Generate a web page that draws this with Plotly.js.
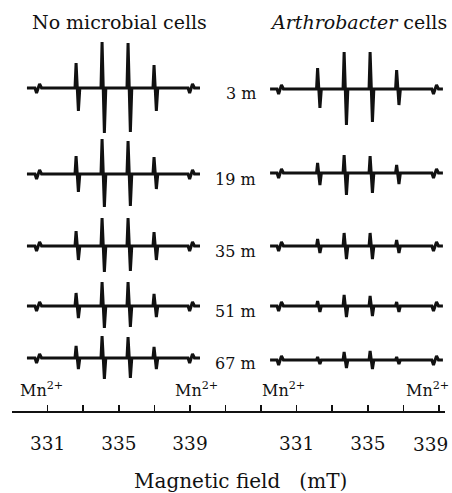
<!DOCTYPE html>
<html>
<head>
<meta charset="utf-8">
<script src="https://cdn.plot.ly/plotly-3.0.1.min.js"></script>
<style>html,body{margin:0;padding:0;background:#fff;}#chart{width:452px;height:493px;}</style>
</head>
<body>
<div id="chart"></div>
<script>
// ---- data (magnetic field in mT, signal in arbitrary units) ----
const rowLabels = ['3 m', '19 m', '35 m', '51 m', '67 m'];
const panelTitles = ['No microbial cells', '<i>Arthrobacter</i> cells'];

// field points of the traced spectra, left panel (no cells)
const leftField = [329.84, 330.29, 330.38, 330.55, 330.66,
  332.54, 332.60, 332.73, 332.81,
  334.00, 334.06, 334.19, 334.27,
  335.46, 335.52, 335.65, 335.73,
  336.92, 336.98, 337.11, 337.19,
  338.89, 338.98, 339.14, 339.25, 339.56];
// field points, right panel (Arthrobacter cells)
const rightField = [329.51, 329.90, 329.99, 330.15, 330.26,
  332.12, 332.18, 332.31, 332.39,
  333.61, 333.67, 333.80, 333.88,
  335.07, 335.13, 335.26, 335.34,
  336.56, 336.62, 336.75, 336.83,
  338.60, 338.69, 338.86, 338.97, 339.22];

// signal values
const left3m  = [0, 0, -5, 4, 0,  0, 25, -23, 0,  0, 46, -45, 0,  0, 45, -44, 0,  0, 23, -23, 0,  0, -5, 4, 0, 0];
const left19m = [0, 0, -5, 4, 0,  0, 18, -18, 0,  0, 35, -33, 0,  0, 33, -32, 0,  0, 17, -15, 0,  0, -5, 4, 0, 0];
const left35m = [0, 0, -5, 4, 0,  0, 15, -14, 0,  0, 28, -26, 0,  0, 28, -25, 0,  0, 14, -14, 0,  0, -5, 4, 0, 0];
const left51m = [0, 0, -5, 4, 0,  0, 13, -12, 0,  0, 24, -22, 0,  0, 24, -21, 0,  0, 12, -11, 0,  0, -5, 4, 0, 0];
const left67m = [0, 0, -5, 4, 0,  0, 12, -11, 0,  0, 22, -21, 0,  0, 21, -20, 0,  0, 11, -11, 0,  0, -5, 4, 0, 0];

const right3m  = [0, 0, -5, 4, 0,  0, 21, -19, 0,  0, 37, -36, 0,  0, 37, -33, 0,  0, 19, -16, 0,  0, -5, 4, 0, 0];
const right19m = [0, 0, -5, 4, 0,  0, 10, -12, 0,  0, 18, -22, 0,  0, 17, -20, 0,  0, 8, -11, 0,  0, -5, 4, 0, 0];
const right35m = [0, 0, -5, 4, 0,  0, 7, -7, 0,  0, 13, -13, 0,  0, 13, -13, 0,  0, 6, -7, 0,  0, -5, 4, 0, 0];
const right51m = [0, 0, -5, 4, 0,  0, 5, -6, 0,  0, 11, -11, 0,  0, 10, -10, 0,  0, 4, -6, 0,  0, -5, 4, 0, 0];
const right67m = [0, 0, -5, 4, 0,  0, 3, -4, 0,  0, 8, -8, 0,  0, 9, -9, 0,  0, 3, -4, 0,  0, -5, 4, 0, 0];

// Mn2+ marker fields
const leftMnField = [330.46, 339.06];
const rightMnField = [330.07, 338.78];

// axis ticks (labelled majors, unlabelled minors)
const leftTickVals = [331, 335, 339];
const leftTickText = ['331', '335', '339'];
const leftMinorVals = [329, 333, 337, 341];
const rightTickVals = [331, 335];
const rightTickText = ['331', '335'];
const rightMinorVals = [329, 333, 337, 339];
const rightEndLabel = {value: 339, text: '339'};
const xTitle = 'Magnetic field  \u00a0(mT)';

// ---- layout helpers ----
const W = 452, H = 493;
const leftRows = [left3m, left19m, left35m, left51m, left67m];
const rightRows = [right3m, right19m, right35m, right51m, right67m];
const leftBase = [88, 174, 246, 306, 358];
const rightBase = [89, 173, 246, 306, 360];
const FONT = 'DejaVu Serif, Liberation Serif, serif';
const py = p => 1 - p / H;
const px = p => p / W;
const half = 50 / H;
const AXIS_Y = 411.5;

const traces = [];
const tickFont = {family: FONT, size: 18.5, color: '#111'};
const axisCommon = {
  anchor: 'free', position: py(AXIS_Y),
  showline: true, linecolor: '#111', linewidth: 2,
  ticks: 'inside', ticklen: 6, tickwidth: 1.5, tickcolor: '#111',
  tickfont: tickFont,
  ticklabelstandoff: 15,
  showgrid: false, zeroline: false, fixedrange: true
};
const minorCommon = {ticks: 'inside', ticklen: 6, tickwidth: 1.5, tickcolor: '#111', showgrid: false};
const layout = {
  width: W, height: H,
  margin: {l: 0, r: 0, t: 0, b: 0},
  paper_bgcolor: '#fff', plot_bgcolor: 'rgba(0,0,0,0)',
  showlegend: false,
  font: {family: FONT, color: '#111', size: 16},
  xaxis: Object.assign({}, axisCommon, {
    domain: [px(12), px(243)], range: [329, 329 + 231 / 17.8],
    tickvals: leftTickVals, ticktext: leftTickText,
    minor: Object.assign({tickvals: leftMinorVals}, minorCommon)
  }),
  xaxis2: Object.assign({}, axisCommon, {
    domain: [px(243), px(445)], range: [329 - 18 / 17.8, 329 + 184 / 17.8],
    tickvals: rightTickVals, ticktext: rightTickText,
    minor: Object.assign({tickvals: rightMinorVals}, minorCommon)
  }),
  annotations: []
};

for (let i = 0; i < 5; i++) {
  const yl = 'y' + (i + 1), yr = 'y' + (i + 6);
  const kl = 'yaxis' + (i === 0 ? '' : (i + 1)), kr = 'yaxis' + (i + 6);
  layout[kl] = {domain: [py(leftBase[i]) - half, py(leftBase[i]) + half], range: [-50, 50], anchor: 'x', visible: false, fixedrange: true};
  layout[kr] = {domain: [py(rightBase[i]) - half, py(rightBase[i]) + half], range: [-50, 50], anchor: 'x2', visible: false, fixedrange: true};
  traces.push({x: leftField, y: leftRows[i], xaxis: 'x', yaxis: yl, mode: 'lines', line: {color: '#111', width: 3}, hoverinfo: 'skip'});
  traces.push({x: rightField, y: rightRows[i], xaxis: 'x2', yaxis: yr, mode: 'lines', line: {color: '#111', width: 3}, hoverinfo: 'skip'});
  layout.annotations.push({text: rowLabels[i], xref: 'paper', yref: 'paper', x: px(258), y: py(leftBase[i] + 5),
    xanchor: 'right', yanchor: 'middle', showarrow: false, font: {family: FONT, size: 16, color: '#111'}});
}

// last tick label of the right axis, pulled in from the page edge as in the original
layout.annotations.push({text: rightEndLabel.text, xref: 'x2', yref: 'paper', x: rightEndLabel.value, xshift: -9,
  y: py(444), xanchor: 'center', yanchor: 'middle', showarrow: false, font: tickFont});

// panel titles
layout.annotations.push({text: panelTitles[0], xref: 'paper', yref: 'paper', x: px(30), y: py(22), xanchor: 'left', yanchor: 'middle', showarrow: false, font: {family: FONT, size: 19, color: '#111'}});
layout.annotations.push({text: panelTitles[1], xref: 'paper', yref: 'paper', x: px(268), y: py(22), xanchor: 'left', yanchor: 'middle', showarrow: false, font: {family: FONT, size: 19, color: '#111'}});

// Mn2+ markers
const mnFont = {family: FONT, size: 16, color: '#111'};
layout.annotations.push({text: 'Mn<sup>2+</sup>', xref: 'x', yref: 'paper', x: leftMnField[0], xshift: 4, y: py(402), xanchor: 'center', yanchor: 'bottom', showarrow: false, font: mnFont});
layout.annotations.push({text: 'Mn<sup>2+</sup>', xref: 'x', yref: 'paper', x: leftMnField[1], xshift: 5, y: py(402), xanchor: 'center', yanchor: 'bottom', showarrow: false, font: mnFont});
layout.annotations.push({text: 'Mn<sup>2+</sup>', xref: 'x2', yref: 'paper', x: rightMnField[0], xshift: 3, y: py(402), xanchor: 'center', yanchor: 'bottom', showarrow: false, font: mnFont});
layout.annotations.push({text: 'Mn<sup>2+</sup>', xref: 'paper', yref: 'paper', x: px(451), y: py(402), xanchor: 'right', yanchor: 'bottom', showarrow: false, font: mnFont});

// axis title
layout.annotations.push({text: xTitle, xref: 'paper', yref: 'paper', x: px(240), y: py(481), xanchor: 'center', yanchor: 'middle', showarrow: false, font: {family: FONT, size: 20, color: '#111'}});

Plotly.newPlot('chart', traces, layout, {staticPlot: true, displayModeBar: false});
</script>
</body>
</html>
